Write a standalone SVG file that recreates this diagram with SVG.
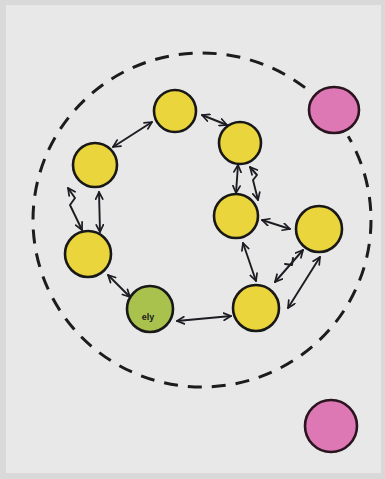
<svg xmlns="http://www.w3.org/2000/svg" width="385" height="479" viewBox="0 0 385 479">
<defs>
<marker id="ah" viewBox="0 0 10 10" refX="9" refY="5" markerWidth="9" markerHeight="9" markerUnits="userSpaceOnUse" orient="auto-start-reverse">
<path d="M1,1 L9,5 L1,9" fill="none" stroke="#1c1c22" stroke-width="1.9" stroke-linecap="round" stroke-linejoin="round"/>
</marker>
<style>
.y{fill:#ead53c;stroke:#181818;stroke-width:2.6}
.g{fill:#a9c24e;stroke:#181818;stroke-width:2.6}
.p{fill:#de78b4;stroke:#2a1420;stroke-width:2.6}
.c{fill:none;stroke:#1c1c22;stroke-width:1.9;stroke-linecap:round;stroke-linejoin:round;marker-start:url(#ah);marker-end:url(#ah)}
.t{font-family:"Liberation Sans",Arial,sans-serif;font-size:9px;font-weight:bold;fill:#1a1a1a}
</style>
</defs>
<rect x="0" y="0" width="385" height="479" fill="#d9d9d9"/>
<rect x="6" y="5" width="375" height="468" fill="#e8e8e8"/>
<g id="boundary">
<ellipse cx="202" cy="220" rx="169" ry="167" fill="none" stroke="#1c1c1c" stroke-width="3" stroke-dasharray="14 10"/>
<circle cx="334" cy="110" r="30" fill="#e8e8e8"/>
</g>
<g id="connectors">
<line class="c" x1="113" y1="147" x2="152" y2="122"/>
<line class="c" x1="202" y1="115" x2="227" y2="125"/>
<line class="c" x1="238" y1="165" x2="236" y2="193" stroke-width="2.6"/>
<polyline class="c" points="250,167 257,175 253,180 258,200"/>
<polyline class="c" points="68,188 75,198 70,205 82,230"/>
<line class="c" x1="99" y1="192" x2="100" y2="232"/>
<line class="c" x1="262" y1="220" x2="290" y2="229"/>
<line class="c" x1="243" y1="243" x2="256" y2="281"/>
<line class="c" x1="275" y1="282" x2="303" y2="250"/>
<path d="M285,264 L292,265 L293,258" fill="none" stroke="#1c1c22" stroke-width="1.9" stroke-linecap="round" stroke-linejoin="round"/>
<line class="c" x1="288" y1="308" x2="320" y2="257"/>
<line class="c" x1="108" y1="275" x2="130" y2="297"/>
<line class="c" x1="177" y1="321" x2="231" y2="316"/>
</g>
<g id="n-top"><circle class="y" cx="175" cy="111" r="21"/></g>
<g id="n-upper-right"><circle class="y" cx="240" cy="143" r="21"/></g>
<g id="n-left-top"><circle class="y" cx="95" cy="165" r="22"/></g>
<g id="n-middle"><circle class="y" cx="236" cy="216" r="22"/></g>
<g id="n-far-right"><circle class="y" cx="319" cy="229" r="23"/></g>
<g id="n-left-bottom"><circle class="y" cx="88" cy="254" r="23"/></g>
<g id="n-bottom-right"><circle class="y" cx="256" cy="308" r="23"/></g>
<g id="n-green"><circle class="g" cx="150" cy="309" r="23"/><text class="t" x="148" y="320" text-anchor="middle">ely</text></g>
<g id="n-pink-top"><ellipse class="p" cx="334" cy="110" rx="25" ry="23"/></g>
<g id="n-pink-bottom"><circle class="p" cx="331" cy="426" r="26"/></g>
</svg>
